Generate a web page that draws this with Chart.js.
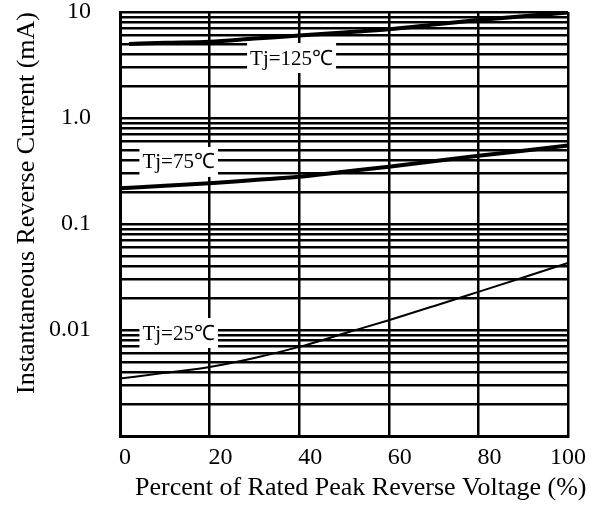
<!DOCTYPE html>
<html>
<head>
<meta charset="utf-8">
<script src="https://cdn.jsdelivr.net/npm/chart.js@4.4.0/dist/chart.umd.min.js"></script>
<style>
  html, body { margin: 0; padding: 0; background: #fff; }
  canvas { display: block; }
</style>
</head>
<body>
<canvas id="irChart" width="599" height="512"></canvas>
<script>
// x: percent of rated peak reverse voltage
const voltagePct = [0, 10, 20, 30, 40, 50, 60, 70, 80, 90, 100];
const voltagePct125 = [2, 10, 20, 30, 40, 50, 60, 70, 80, 90, 100];

// instantaneous reverse current (mA) per junction temperature
const current125 = [5.0, 5.12, 5.25, 5.61, 5.99, 6.42, 6.88, 7.6, 8.4, 9.12, 9.9];
const current75 = [0.217, 0.229, 0.242, 0.26, 0.279, 0.311, 0.347, 0.39, 0.44, 0.49, 0.549];
const current25 = [0.00348, 0.00394, 0.00448, 0.00545, 0.00693, 0.00927, 0.01238, 0.01678, 0.0229, 0.0313, 0.043];

// tick labels
const xTicks = [0, 20, 40, 60, 80, 100];
const yLabelValues = [10, 1, 0.1, 0.01];
const yLabelTexts = ['10', '1.0', '0.1', '0.01'];
const decades = [0.001, 0.01, 0.1, 1];
const minorSteps = [1, 2, 3, 4, 5, 6, 7, 8, 9];

// curve labels
const curveLabels = ['Tj=125\u2103', 'Tj=75\u2103', 'Tj=25\u2103'];
const curveLabelX = [38.3, 13.1, 13.1];
const curveLabelY = [3.68, 0.385, 0.00937];

const serif = '"Liberation Serif", "Times New Roman", serif';

const pts = (xs, ys) => xs.map((v, i) => ({ x: v, y: ys[i] }));

const gridValues = [];
decades.forEach(d => minorSteps.forEach(k => gridValues.push(+(k * d).toPrecision(3))));
gridValues.push(10);

// labels, x ticks and x title drawn on top
const textLayer = {
  id: 'textLayer',
  afterDatasetsDraw(chart) {
    const { ctx, scales: { x, y } } = chart;
    ctx.save();
    ctx.font = '21px ' + serif;
    ctx.textAlign = 'center';
    ctx.textBaseline = 'middle';
    curveLabels.forEach((t, i) => {
      const px = x.getPixelForValue(curveLabelX[i]);
      const py = y.getPixelForValue(curveLabelY[i]);
      const w = ctx.measureText(t).width + 6;
      ctx.fillStyle = '#fff';
      ctx.fillRect(px - w / 2, py - 15, w, 30);
      ctx.fillStyle = '#000';
      ctx.fillText(t, px, py + 1);
    });

    ctx.font = '24px ' + serif;
    ctx.textBaseline = 'alphabetic';
    xTicks.forEach((v, i) => {
      const last = i === xTicks.length - 1;
      ctx.textAlign = last ? 'center' : 'left';
      ctx.fillText(String(v), x.getPixelForValue(v) - (last ? 0 : 1), 464);
    });

    ctx.font = '26px ' + serif;
    ctx.textAlign = 'left';
    ctx.fillText('Percent of Rated Peak Reverse Voltage (%)', 135, 495, 456);
    ctx.restore();
  }
};

new Chart(document.getElementById('irChart'), {
  type: 'line',
  data: {
    datasets: [
      { label: 'Tj=125', data: pts(voltagePct125, current125), borderColor: '#000', borderWidth: 4 },
      { label: 'Tj=75', data: pts(voltagePct, current75), borderColor: '#000', borderWidth: 4 },
      { label: 'Tj=25', data: pts(voltagePct, current25), borderColor: '#000', borderWidth: 2 }
    ]
  },
  options: {
    responsive: false,
    animation: false,
    devicePixelRatio: 1,
    layout: { padding: { left: 0, top: 12, right: 31, bottom: 0 } },
    elements: {
      point: { radius: 0 },
      line: { cubicInterpolationMode: 'monotone', borderCapStyle: 'butt' }
    },
    plugins: { legend: { display: false }, tooltip: { enabled: false } },
    scales: {
      x: {
        type: 'linear',
        min: 0,
        max: 100,
        ticks: { stepSize: 20, display: false },
        grid: { color: '#000', lineWidth: 2.5, drawTicks: false },
        border: { color: '#000', width: 3 },
        afterFit: s => { s.height = 76; s.paddingLeft = 0; s.paddingRight = 0; }
      },
      y: {
        type: 'logarithmic',
        min: 0.001,
        max: 10,
        afterBuildTicks: s => { s.ticks = gridValues.map(v => ({ value: v })); },
        ticks: {
          color: '#000',
          padding: 29,
          font: { family: serif, size: 24 },
          autoSkip: false,
          callback: v => {
            const i = yLabelValues.findIndex(t => Math.abs(t - v) / t < 1e-6);
            return i < 0 ? '' : yLabelTexts[i];
          }
        },
        grid: { color: '#000', lineWidth: 2.5, drawTicks: false },
        border: { color: '#000', width: 3 },
        title: {
          display: true,
          text: 'Instantaneous Reverse Current (mA)',
          align: 'end',
          color: '#000',
          font: { family: serif, size: 26 },
          padding: { top: 12, bottom: 0 }
        },
        afterFit: s => { s.width = 120; s.paddingTop = 0; s.paddingBottom = 0; }
      }
    }
  },
  plugins: [textLayer]
});
</script>
</body>
</html>
